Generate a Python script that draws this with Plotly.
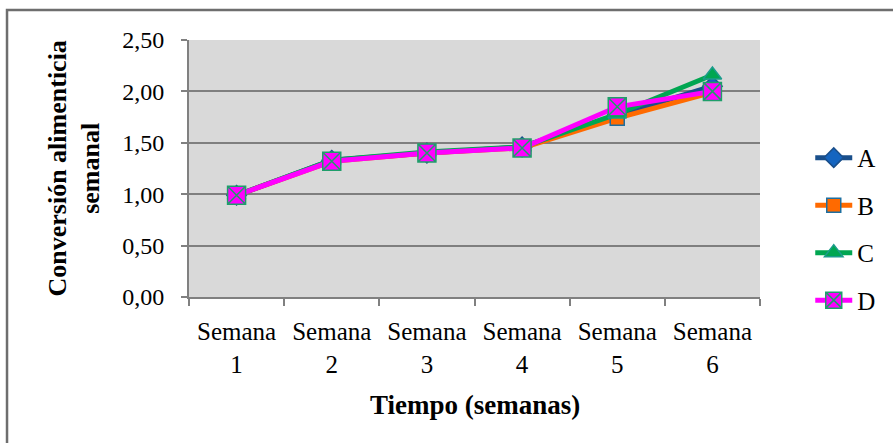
import plotly.graph_objects as go

categories = ["Semana<br>1", "Semana<br>2", "Semana<br>3", "Semana<br>4", "Semana<br>5", "Semana<br>6"]
series_names = ["A", "B", "C", "D"]
values_A = [0.99, 1.33, 1.40, 1.46, 1.77, 2.05]
values_B = [0.99, 1.32, 1.40, 1.45, 1.74, 1.99]
values_C = [0.99, 1.33, 1.41, 1.46, 1.78, 2.16]
values_D = [0.99, 1.32, 1.40, 1.45, 1.85, 2.00]
y_ticks = [0, 0.5, 1.0, 1.5, 2.0, 2.5]
y_tick_labels = ["0,00", "0,50", "1,00", "1,50", "2,00", "2,50"]
x_title = "Tiempo (semanas)"
y_title = "Conversión alimenticia<br>semanal"

styles = [
    dict(line="#1A4F8B", marker="#1565C0", mline="#1A4F8B", symbol="diamond", size=15),
    dict(line="#FF6A00", marker="#FF6A00", mline="#1E6FA0", symbol="square", size=14),
    dict(line="#00A651", marker="#00A651", mline="#1B9C8C", symbol="triangle-up", size=16),
    dict(line="#FF00FF", marker="#FF00FF", mline="#1F9E6A", symbol="square-x", size=18),
]

fig = go.Figure()
for name, vals, st in zip(series_names, [values_A, values_B, values_C, values_D], styles):
    fig.add_trace(go.Scatter(
        x=categories, y=vals, name=name, legendgroup=name, mode="lines+markers",
        line=dict(color=st["line"], width=5),
        marker=dict(symbol=st["symbol"], size=st["size"], color=st["marker"],
                    line=dict(color=st["mline"], width=1.5)),
    ))

font_family = "Liberation Serif, DejaVu Serif, serif"

fig.update_layout(
    width=893, height=443,
    margin=dict(l=189, r=133, t=40, b=146, autoexpand=False),
    paper_bgcolor="white",
    plot_bgcolor="#D9D9D9",
    font=dict(family=font_family, size=24, color="black"),
    showlegend=True,
    legend=dict(x=1.088, y=0.265, xanchor="left", yanchor="middle",
                font=dict(family=font_family, size=25, color="black"),
                tracegroupgap=12, itemsizing="trace", itemwidth=37,
                bgcolor="rgba(0,0,0,0)"),
    xaxis=dict(
        type="category",
        automargin=False,
        showgrid=False,
        showline=True, linecolor="#808080", linewidth=2,
        ticks="outside", ticklen=7, tickcolor="#808080", tickwidth=2,
        tickson="boundaries",
        ticklabelstandoff=11,
        tickfont=dict(family=font_family, size=25),
        range=[-0.5, 5.5],
    ),
    yaxis=dict(
        automargin=False,
        range=[0, 2.5],
        tickvals=y_ticks, ticktext=y_tick_labels,
        showgrid=True, gridcolor="#7F7F7F", gridwidth=2,
        showline=True, linecolor="#808080", linewidth=2,
        ticks="outside", ticklen=6, tickcolor="#808080", tickwidth=2,
        ticklabelstandoff=12,
        tickfont=dict(family=font_family, size=24),
        zeroline=False,
    ),
)

fig.add_annotation(text="<b>" + x_title + "</b>", xref="paper", yref="paper",
                   x=(475 - 189) / 571, y=(297 - 405) / 257, xanchor="center", yanchor="middle",
                   showarrow=False, font=dict(family=font_family, size=27))
fig.add_annotation(text="<b>" + y_title + "</b>", xref="paper", yref="paper",
                   x=(74 - 189) / 571, y=0.5, xanchor="center", yanchor="middle",
                   textangle=-90, showarrow=False, font=dict(family=font_family, size=26))

# outer chart border (extends beyond the visible window)
fig.add_shape(type="rect", xref="paper", yref="paper",
              x0=-0.3187, y0=-0.62, x1=1.26, y1=1.1167,
              line=dict(color="#6E6E6E", width=2.5), fillcolor="rgba(0,0,0,0)", layer="below")

fig.write_html("out.html", config={"displayModeBar": False},
               post_script="document.body.style.margin='0';")
